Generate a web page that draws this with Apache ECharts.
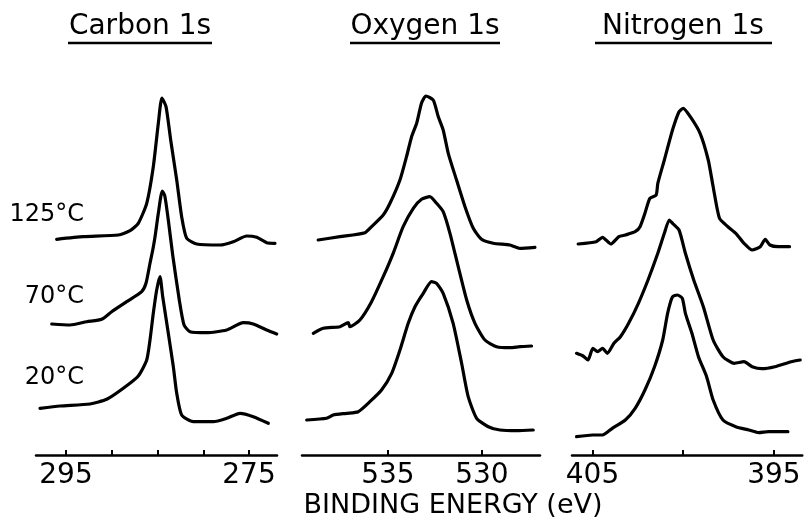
<!DOCTYPE html>
<html><head><meta charset="utf-8">
<script src="https://cdn.jsdelivr.net/npm/echarts@6/dist/echarts.min.js"></script>
<style>html,body{margin:0;padding:0;background:#fff}#c{width:808px;height:523px}</style>
</head><body><div id="c"></div>
<script>
// ---- text ----
const panelTitles = ['Carbon 1s', 'Oxygen 1s', 'Nitrogen 1s'];
const temperatureLabels = ['125°C', '70°C', '20°C'];
const axisTitle = 'BINDING ENERGY (eV)';

// ---- axis ticks / labels (binding energy, eV) ----
const carbonTicks = [295, 290, 285, 280, 275];
const carbonTickLabels = [295, 275];
const oxygenTicks = [535, 530];
const oxygenTickLabels = [535, 530];
const nitrogenTicks = [405, 400, 395];
const nitrogenTickLabels = [405, 395];

// ---- spectra: [binding energy (eV), intensity incl. vertical offset (arb.)] ----
const carbon125 = [[296.02,215.7],[293.11,218.3],[289.28,220],[288.0,224.3],[287.10,231.7],[286.18,251.7],[285.46,288.3],[284.91,331.7],[284.52,357],[284.07,348.3],[283.56,315],[282.90,275],[282.36,238.3],[281.81,216.7],[280.72,211],[278.17,210],[276.72,213.3],[275.25,219],[274.16,217.7],[273.07,212.3],[272.16,211.7]];
const carbon70 = [[296.56,131],[294.56,130],[292.74,133.3],[291.10,135.7],[290.01,143.3],[288.37,153.3],[286.73,163.3],[286.26,171.7],[285.82,191.7],[285.52,205],[285.27,218.3],[284.91,241.7],[284.48,264],[284.20,259],[283.82,235],[283.34,200],[282.62,155],[282.10,130],[281.45,123.3],[279.62,122.3],[277.44,125],[275.62,132.3],[274.53,131],[273.07,125],[271.97,121]];
const carbon20 = [[297.84,46.7],[295.66,49],[292.38,51],[290.55,55.7],[288.74,66.7],[287.10,79],[286.18,95],[285.82,115],[285.46,141.7],[285.09,165],[284.73,178.3],[284.43,158.3],[283.82,121.7],[283.27,88.3],[282.90,61.7],[282.36,40],[281.09,33.3],[278.90,33.3],[277.44,36.7],[275.98,41.7],[274.53,38.3],[272.89,31.7]];

const oxygen125 = [[538.71,215],[537.55,218.3],[536.22,222.3],[535.87,228.3],[535.25,240],[534.89,251.7],[534.36,275],[534.01,298.3],[533.74,318.3],[533.47,331.7],[533.21,352],[532.98,359],[532.59,355],[532.32,338.3],[532.06,325],[531.79,301.7],[531.35,275],[530.90,248.3],[530.46,226.7],[530.02,215.7],[529.40,211.7],[528.51,210],[527.98,206.7],[527.18,207.7]];
const oxygen70 = [[538.97,121.7],[538.44,126.7],[537.55,128.3],[537.11,132.3],[537.02,128.3],[536.49,135],[535.87,153.3],[535.25,178.3],[534.72,201.7],[534.19,228.3],[533.65,246.7],[533.21,255.7],[532.77,258.3],[532.41,251.7],[532.06,243.3],[531.70,221.7],[531.26,188.3],[530.81,155],[530.37,131.7],[529.84,115],[529.22,108.3],[528.51,107.3],[527.98,108.3],[527.36,109]];
const oxygen20 = [[539.32,35],[538.26,36.7],[537.91,40],[537.20,41.7],[536.58,43.3],[535.96,53.3],[535.34,65],[534.80,81.7],[534.36,105],[533.92,131.7],[533.56,148.3],[533.12,161.7],[532.68,173.3],[532.41,171.7],[532.06,161.7],[531.53,131.7],[531.08,91.7],[530.73,58.3],[530.28,36.7],[529.66,28.3],[529.04,25],[528.15,24.3],[527.27,25]];

const nitrogen125 = [[405.79,211],[404.80,213.3],[404.45,217.7],[403.99,211],[403.55,218.3],[403.19,220],[402.65,223.3],[402.38,228.3],[402.11,241.7],[401.84,256.7],[401.49,260],[401.40,271.7],[401.04,295],[400.59,325],[400.23,343.3],[400.00,346.7],[399.61,338.3],[399.07,321.7],[398.62,295],[398.35,268.3],[398.00,236.7],[397.54,228.3],[397.10,221.7],[396.65,211.7],[396.20,205],[395.75,208.3],[395.48,215.7],[395.22,210],[394.77,208.3],[394.14,208.3]];
const nitrogen70 = [[405.88,101.7],[405.52,99],[405.25,95],[404.98,106.7],[404.72,103.3],[404.45,106.7],[404.18,101.7],[403.82,111.7],[403.46,118.3],[403.01,131.7],[402.47,151.7],[401.94,175],[401.40,201.7],[401.04,221.7],[400.77,235],[400.59,231.7],[400.23,225],[399.88,201.7],[399.42,175],[398.89,148.3],[398.35,115],[397.81,98.3],[397.19,91.7],[396.65,93.3],[396.20,88.3],[395.66,86.3],[394.95,88.3],[394.05,93.3],[393.55,95]];
const nitrogen20 = [[405.88,18.3],[404.98,20],[404.45,20],[403.91,26.7],[403.19,35],[402.65,46.7],[402.11,65],[401.58,88.3],[401.13,115],[400.86,141.7],[400.59,158.3],[400.32,160],[400.05,156.7],[399.88,141.7],[399.52,121.7],[399.16,98.3],[398.71,78.3],[398.35,55],[397.81,35],[397.10,28.3],[396.38,25],[395.84,22.3],[395.31,23.3],[394.23,23.3]];

// ---- layout ----
const FONT = 'DejaVu Sans';
const panels = [
  {left: 36, width: 241, min: 271.94, max: 298.28, ticks: carbonTicks, labels: carbonTickLabels, series: [carbon125, carbon70, carbon20], titleX: 140},
  {left: 302, width: 238, min: 526.91, max: 539.57, ticks: oxygenTicks, labels: oxygenTickLabels, series: [oxygen125, oxygen70, oxygen20], titleX: 425},
  {left: 572, width: 236, min: 393.44, max: 406.13, ticks: nitrogenTicks, labels: nitrogenTickLabels, series: [nitrogen125, nitrogen70, nitrogen20], titleX: 683}
];
const gridTop = 55, gridHeight = 400;

const grid = [], xAxis = [], yAxis = [], series = [], graphic = [];
panels.forEach((p, i) => {
  grid.push({left: p.left, top: gridTop, width: p.width, height: gridHeight});
  xAxis.push({
    gridIndex: i, type: 'value', inverse: true, min: p.min, max: p.max,
    axisLine: {show: true, onZero: false, lineStyle: {color: '#000', width: 2.5}},
    axisTick: {show: true, inside: true, length: 5, lineStyle: {color: '#000', width: 2}, customValues: p.ticks},
    axisLabel: {show: true, customValues: p.labels, color: '#000', fontSize: 28, fontFamily: FONT, margin: 7},
    splitLine: {show: false}
  });
  yAxis.push({gridIndex: i, type: 'value', min: 0, max: 400, show: false});
  p.series.forEach((d) => {
    series.push({
      type: 'line', xAxisIndex: i, yAxisIndex: i, data: d,
      showSymbol: false, symbol: 'none', smooth: 0.2,
      lineStyle: {color: '#000', width: 3.2, join: 'round', cap: 'round'}, silent: true
    });
  });
  graphic.push({type: 'text', x: p.titleX, y: 27,
    style: {text: panelTitles[i], fill: '#000', font: '28px ' + FONT, textAlign: 'center', textVerticalAlign: 'middle'}});
});
// underlines
const underlines = [[68, 212], [350, 500], [595, 772]];
underlines.forEach(u => graphic.push({type: 'line', shape: {x1: u[0], y1: 43, x2: u[1], y2: 43}, style: {stroke: '#000', lineWidth: 2.5}}));
// temperature labels
const tempY = [215, 297, 378];
temperatureLabels.forEach((t, k) => graphic.push({type: 'text', x: 84, y: tempY[k],
  style: {text: t, fill: '#000', font: '24px ' + FONT, textAlign: 'right', textVerticalAlign: 'middle'}}));
// axis title
graphic.push({type: 'text', x: 453, y: 506,
  style: {text: axisTitle, fill: '#000', font: '27px ' + FONT, textAlign: 'center', textVerticalAlign: 'middle'}});

const chart = echarts.init(document.getElementById('c'), null, {renderer: 'canvas'});
chart.setOption({animation: false, backgroundColor: '#fff', grid, xAxis, yAxis, series, graphic});
</script></body></html>
